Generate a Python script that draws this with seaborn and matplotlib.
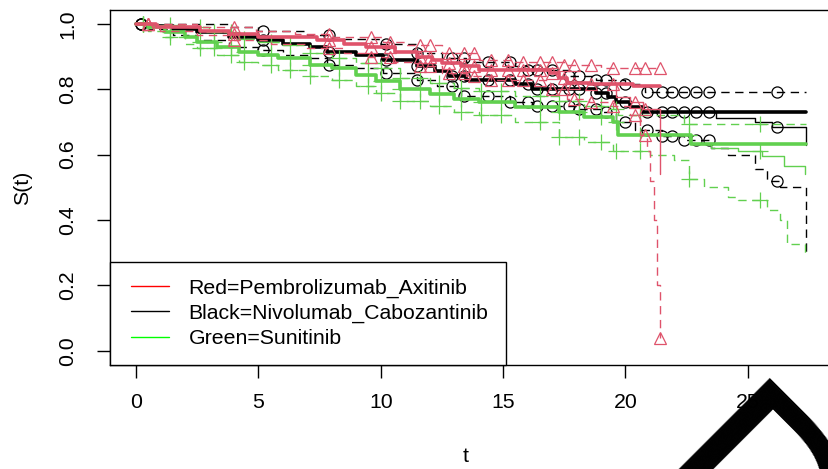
import numpy as np
import pandas as pd
import matplotlib
matplotlib.use("Agg")
import matplotlib.pyplot as plt
import seaborn as sns
from matplotlib.lines import Line2D
from matplotlib.legend_handler import HandlerLine2D

sns.set_style("white")
plt.rcParams["font.family"] = ["Liberation Sans", "DejaVu Sans"]
plt.rcParams["text.color"] = "black"

RED = "#DF536B"
BLACK = "#000000"
GREEN = "#61D04F"

# ---- Pembrolizumab + Axitinib -------------------------------------------
pa_time = [0, 0.8, 2.6, 3.8, 5.0, 7.4, 8.5, 9.4, 10.6, 11.5, 12.1, 12.5, 13.3,
           14.0, 16.9, 17.3, 17.6, 18.5, 20.3, 21.4]
pa_surv = [1.0, 0.99, 0.98, 0.97, 0.96, 0.95, 0.94, 0.93, 0.915, 0.90, 0.89,
           0.88, 0.87, 0.86, 0.85, 0.835, 0.82, 0.815, 0.81, 0.81]
pa_tail_time = [19.0, 19.6, 20.2, 20.7, 21.4]
pa_tail_surv = [0.815, 0.777, 0.76, 0.74, 0.54]
pa_hi_time = [0, 2.5, 4.9, 6.5, 8.0, 10.1, 11.0, 12.5, 14.0, 15.5, 17.5, 19.0, 21.4]
pa_hi_surv = [1.0, 0.99, 0.98, 0.97, 0.96, 0.945, 0.935, 0.91, 0.89, 0.885,
              0.875, 0.866, 0.866]
pa_lo_time = [0, 1.0, 2.5, 4.0, 5.5, 7.0, 8.5, 9.5, 10.5, 11.5, 12.5, 13.5, 14.5,
              16.9, 17.6, 18.5, 19.5, 20.2, 20.6, 20.9, 21.0, 21.15, 21.3, 21.4]
pa_lo_surv = [1.0, 0.98, 0.965, 0.95, 0.94, 0.925, 0.91, 0.90, 0.885, 0.87, 0.85,
              0.84, 0.83, 0.80, 0.77, 0.76, 0.75, 0.72, 0.66, 0.61, 0.52, 0.40,
              0.20, 0.04]
pa_cens = [0.5, 4.0, 7.9, 9.6, 10.4, 11.6, 12.0, 12.8, 13.4, 13.8, 14.5, 15.2,
           15.8, 16.5, 17.0, 17.5, 17.9, 18.6, 19.5, 20.4, 20.8, 21.4]

# ---- Nivolumab + Cabozantinib -------------------------------------------
nc_time = [0, 0.5, 1.5, 2.5, 3.8, 5.0, 6.0, 7.1, 7.8, 9.0, 10.1, 11.5, 12.2,
           12.8, 13.5, 15.5, 16.2, 18.8, 19.3, 19.6, 20.2, 20.7, 27.4]
nc_surv = [1.0, 0.995, 0.985, 0.975, 0.96, 0.95, 0.94, 0.93, 0.915, 0.905, 0.89,
           0.87, 0.855, 0.84, 0.83, 0.815, 0.80, 0.79, 0.775, 0.76, 0.745, 0.732,
           0.732]
nc_tail_time = [23.5, 23.7, 25.3, 26.0, 27.4]
nc_tail_surv = [0.732, 0.713, 0.70, 0.686, 0.63]
nc_hi_time = [0, 2.0, 3.8, 5.0, 7.0, 8.0, 10.0, 11.5, 12.5, 13.5, 15.5, 16.0,
              17.7, 18.8, 20.0, 20.8, 27.4]
nc_hi_surv = [1.0, 1.0, 0.99, 0.98, 0.965, 0.955, 0.94, 0.91, 0.895, 0.885, 0.87,
              0.86, 0.84, 0.83, 0.815, 0.793, 0.793]
nc_lo_time = [0, 0.5, 1.5, 2.5, 3.8, 5.0, 6.0, 7.1, 7.8, 9.0, 10.1, 11.5, 12.3,
              13.3, 15.3, 16.2, 18.1, 19.0, 19.6, 20.4, 21.5, 22.4, 23.5, 24.2,
              25.3, 25.8, 26.3, 27.4]
nc_lo_surv = [1.0, 0.985, 0.965, 0.95, 0.93, 0.92, 0.905, 0.895, 0.875, 0.865,
              0.85, 0.83, 0.81, 0.78, 0.76, 0.75, 0.74, 0.73, 0.70, 0.677, 0.656,
              0.646, 0.62, 0.60, 0.555, 0.52, 0.50, 0.30]
nc_cens = [0.2, 5.2, 7.9, 10.2, 11.5, 12.9, 13.4, 14.4, 15.3, 16.0, 16.4, 17.0,
           17.7, 18.1, 18.8, 19.2, 20.0, 20.9, 21.5, 21.9, 22.4, 22.9, 23.4,
           26.2]

# ---- Sunitinib ------------------------------------------------------------
su_time = [0, 0.5, 1.2, 2.0, 2.5, 3.3, 4.2, 5.0, 5.8, 7.1, 8.0, 9.0, 9.8, 10.8,
           12.0, 13.0, 14.0, 15.5, 17.3, 18.3, 19.5, 19.7, 22.7, 27.4]
su_surv = [1.0, 0.99, 0.975, 0.96, 0.945, 0.93, 0.915, 0.905, 0.895, 0.875,
           0.865, 0.845, 0.825, 0.80, 0.785, 0.77, 0.76, 0.745, 0.73, 0.715,
           0.70, 0.66, 0.634, 0.634]
su_tail_time = [22.7, 23.5, 24.6, 25.6, 26.5, 27.35]
su_tail_surv = [0.634, 0.62, 0.61, 0.595, 0.565, 0.54]
su_hi_time = [0, 1.0, 2.0, 3.0, 4.2, 5.0, 6.0, 7.1, 8.0, 9.0, 10.0, 10.8, 12.0,
              13.0, 14.0, 15.5, 17.3, 18.3, 19.5, 19.7, 22.4, 27.4]
su_hi_surv = [1.0, 0.998, 0.99, 0.975, 0.955, 0.945, 0.935, 0.91, 0.895, 0.88,
              0.865, 0.835, 0.82, 0.805, 0.795, 0.78, 0.765, 0.75, 0.74, 0.72,
              0.695, 0.695]
su_lo_time = [0, 0.5, 1.2, 2.0, 2.5, 3.3, 4.2, 5.0, 5.8, 7.1, 8.0, 9.0, 9.8,
              10.8, 12.0, 13.0, 14.0, 15.5, 17.3, 18.3, 19.5, 21.0, 22.0, 22.6,
              23.2, 24.2, 24.6, 25.8, 26.3, 26.6, 27.35]
su_lo_surv = [1.0, 0.98, 0.96, 0.94, 0.925, 0.905, 0.885, 0.875, 0.86, 0.84,
              0.83, 0.81, 0.79, 0.765, 0.75, 0.73, 0.72, 0.70, 0.655, 0.64, 0.61,
              0.60, 0.585, 0.524, 0.50, 0.47, 0.46, 0.43, 0.40, 0.326, 0.286]
su_cens = [0.3, 1.4, 2.6, 3.2, 3.9, 4.4, 5.5, 6.3, 7.1, 8.3, 9.5, 10.0, 10.8,
           11.6, 12.4, 13.3, 14.1, 14.9, 16.5, 17.3, 18.1, 19.0, 19.6, 20.6,
           22.6, 25.5]

x_ticks = [0, 5, 10, 15, 20, 25]
y_ticks = [0.0, 0.2, 0.4, 0.6, 0.8, 1.0]
legend_labels = ["Red=Pembrolizumab_Axitinib",
                 "Black=Nivolumab_Cabozantinib",
                 "Green=Sunitinib"]
legend_colors = ["#FF0000", "#000000", "#00FF00"]

groups = [
    dict(color=BLACK, marker="o", ms=8.0,
         main=(nc_time, nc_surv), tail=(nc_tail_time, nc_tail_surv),
         hi=(nc_hi_time, nc_hi_surv), lo=(nc_lo_time, nc_lo_surv), cens=nc_cens),
    dict(color=GREEN, marker="+", ms=11.0,
         main=(su_time, su_surv), tail=(su_tail_time, su_tail_surv),
         hi=(su_hi_time, su_hi_surv), lo=(su_lo_time, su_lo_surv), cens=su_cens),
    dict(color=RED, marker="^", ms=9.0,
         main=(pa_time, pa_surv), tail=(pa_tail_time, pa_tail_surv),
         hi=(pa_hi_time, pa_hi_surv), lo=(pa_lo_time, pa_lo_surv), cens=pa_cens),
]


def step_value(times, surv, t):
    times = np.asarray(times)
    idx = np.searchsorted(times, t, side="right") - 1
    return np.asarray(surv)[np.clip(idx, 0, len(surv) - 1)]


W, H = 829, 469
FS = 15.3
fig = plt.figure(figsize=(W / 100, H / 100), dpi=100)
fig.patch.set_facecolor("white")
ax = fig.add_axes([110 / W, 104 / H, 729 / W, 355 / H])
ax.set_facecolor("white")

dash = (0, (6, 4))
for g in groups:
    c = g["color"]
    for key, lw, ls in (("hi", 1.0, dash), ("lo", 1.0, dash),
                        ("tail", 1.0, "-"), ("main", 2.6, "-")):
        t, s = g[key]
        df = pd.DataFrame({"t": t, "S": s})
        sns.lineplot(data=df, x="t", y="S", estimator=None, sort=False,
                     drawstyle="steps-post", color=c, linewidth=lw,
                     linestyle=ls, ax=ax, legend=False)
    cens = np.asarray(g["cens"])
    tail_t, tail_s = g["tail"]
    mark = dict(linestyle="none", marker=g["marker"], ms=g["ms"], mfc="none",
                mec=c, mew=0.9)
    for key in ("hi", "lo"):
        t, s = g[key]
        inside = cens <= t[-1]
        ax.plot(cens[inside], step_value(t, s, cens[inside]), **mark)
    early = cens < tail_t[0]
    late = (cens >= tail_t[0]) & (cens < tail_t[-1])
    ax.plot(cens[early], step_value(*g["main"], cens[early]), **mark)
    ax.plot(cens[late], step_value(tail_t, tail_s, cens[late]), **mark)

ax.set_xlim(-1.063, 28.73)
ax.set_ylim(-0.0438, 1.0428)
ax.set_xticks(x_ticks)
ax.set_xticklabels([str(v) for v in x_ticks])
ax.set_yticks(y_ticks)
ax.set_yticklabels([f"{v:.1f}" for v in y_ticks], rotation=90, va="center")
ax.tick_params(axis="both", which="major", bottom=True, left=True,
               direction="out", length=9.4, width=1.0, color="black",
               labelsize=FS, labelcolor="black")
ax.tick_params(axis="x", pad=10.5)
ax.tick_params(axis="y", pad=14)
for sp in ax.spines.values():
    sp.set_visible(True)
    sp.set_color("black")
    sp.set_linewidth(1.0)

ax.set_xlabel("t", fontsize=FS, color="black")
ax.set_ylabel("S(t)", fontsize=FS, color="black")
ax.xaxis.set_label_coords(0.488, -0.231)
ax.yaxis.set_label_coords(-0.107, 0.5)

handles = [Line2D([], [], color=c, lw=1.0) for c in legend_colors]
leg = ax.legend(handles, legend_labels, loc="lower left", bbox_to_anchor=(0, 0),
                borderaxespad=0, fontsize=FS, frameon=True, fancybox=False,
                shadow=False, framealpha=1, edgecolor="black",
                handlelength=1.96, handletextpad=0.94, borderpad=0.8,
                labelspacing=0.28, labelcolor="black",
                handler_map={Line2D: HandlerLine2D(xpad=0.17)})
leg.get_frame().set_linewidth(1.0)
leg.set_zorder(5)

fig.text(616 / W, (H - 506) / H, "D", fontsize=180, rotation=-45,
         rotation_mode="anchor", ha="left", va="baseline",
         family="DejaVu Sans", color="black", zorder=10)

fig.savefig("out.png", dpi=100, facecolor="white")
